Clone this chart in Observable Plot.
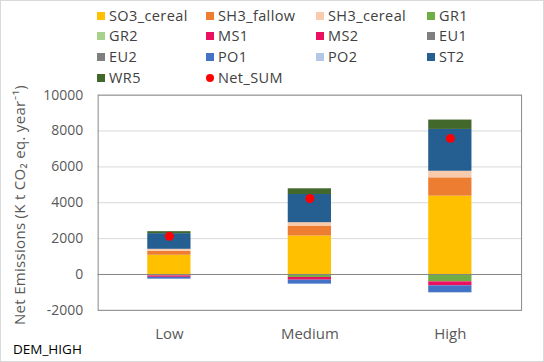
<!DOCTYPE html>
<html>
<head>
<meta charset="utf-8">
<script src="https://cdn.jsdelivr.net/npm/d3@7"></script>
<script src="https://cdn.jsdelivr.net/npm/@observablehq/plot@0.6"></script>
<style>
  html, body { margin: 0; padding: 0; background: #fff; }
  #wrap { position: relative; width: 544px; height: 362px; box-sizing: border-box; border: 1px solid #d9d9d9; overflow: hidden; font-family: "Open Sans", Lato, sans-serif; }
  #wrap svg { position: absolute; left: 0; top: 0; }
  .leg { position: absolute; font-size: 14.5px; letter-spacing: 0.4px; color: #404040; white-space: nowrap; line-height: 16px; }
  .sw { display: inline-block; width: 8px; height: 8px; margin-right: 4px; vertical-align: 1px; }
  .dot { display: inline-block; width: 8px; height: 8px; border-radius: 50%; margin-right: 4px; vertical-align: 1px; background: #ff0000; }
  #ylab { position: absolute; left: 18px; top: 204px; transform: translate(-50%, -50%) rotate(-90deg); font-size: 15px; letter-spacing: 0.3px; color: #595959; white-space: nowrap; }
  #corner { position: absolute; left: 12px; top: 339px; font-size: 13.5px; color: #000; }
</style>
</head>
<body>
<div id="wrap"></div>
<script>
const scenarios = ["Low", "Medium", "High"];
const seriesNames = ["SO3_cereal", "SH3_fallow", "SH3_cereal", "GR1", "GR2", "MS1", "MS2", "EU1", "EU2", "PO1", "PO2", "ST2", "WR5"];
const seriesColors = ["#FFC000", "#ED7D31", "#F8CBAD", "#70AD47", "#A9D18E", "#EB1060", "#EB1060", "#7F7F7F", "#7F7F7F", "#4472C4", "#B4C7E7", "#255E91", "#43682B"];
// values per series for Low, Medium, High
const SO3_cereal = [1072, 2144, 4367];
const SH3_fallow = [222, 556, 1022];
const SH3_cereal = [111, 189, 367];
const GR1 = [-80, -167, -411];
const GR2 = [0, 0, 0];
const MS1 = [-80, -150, -222];
const MS2 = [0, 0, 0];
const EU1 = [0, 0, 0];
const EU2 = [0, 0, 0];
const PO1 = [-100, -222, -389];
const PO2 = [0, 0, 0];
const ST2 = [872, 1572, 2333];
const WR5 = [111, 317, 522];
const Net_SUM = [2128, 4239, 7589];
const yTicks = [-2000, 0, 2000, 4000, 6000, 8000, 10000];

const seriesValues = [SO3_cereal, SH3_fallow, SH3_cereal, GR1, GR2, MS1, MS2, EU1, EU2, PO1, PO2, ST2, WR5];
const rows = [];
seriesNames.forEach((s, i) => scenarios.forEach((c, j) => rows.push({series: s, scenario: c, value: seriesValues[i][j]})));
const netRows = scenarios.map((c, j) => ({scenario: c, value: Net_SUM[j]}));

const W = 544, H = 362;
const chart = Plot.plot({
  width: W, height: H,
  marginLeft: 97, marginRight: 22, marginTop: 94, marginBottom: 52,
  style: {fontFamily: "'Open Sans', Lato, sans-serif", fontSize: "14px", color: "#595959", background: "transparent"},
  x: {type: "band", domain: scenarios, padding: 0, label: null},
  y: {domain: [-2000, 10000], label: null},
  color: {domain: seriesNames, range: seriesColors},
  marks: [
    Plot.gridY(yTicks, {stroke: "#d9d9d9", strokeOpacity: 1}),
    Plot.barY(rows, {x: "scenario", y: "value", fill: "series", insetLeft: 48.8, insetRight: 48.8, order: seriesNames}),
    Plot.ruleY([0], {stroke: "#868686", strokeWidth: 1}),
    Plot.frame({stroke: "#898989"}),
    Plot.dot(netRows, {x: "scenario", y: "value", r: 4.5, fill: "#ff0000"}),
    Plot.axisY(yTicks, {tickSize: 0, tickPadding: 15, label: null, fill: "#595959", fontSize: 14, tickFormat: d => String(d)}),
    Plot.axisX({tickSize: 0, tickPadding: 18, label: null, fill: "#595959", fontSize: 15})
  ]
});
const wrap = document.getElementById("wrap");
wrap.appendChild(chart);

// legend (HTML)
const legItems = seriesNames.map((s, i) => ({name: s, color: seriesColors[i], dot: false}));
legItems.push({name: "Net_SUM", color: "#ff0000", dot: true});
const colX = [96, 205, 315, 426];
const rowY = [7, 27, 48, 69];
legItems.forEach((it, k) => {
  const d = document.createElement("div");
  d.className = "leg";
  d.style.left = colX[k % 4] + "px";
  d.style.top = rowY[Math.floor(k / 4)] + "px";
  const m = document.createElement("span");
  m.className = it.dot ? "dot" : "sw";
  if (!it.dot) m.style.background = it.color;
  d.appendChild(m);
  d.appendChild(document.createTextNode(it.name));
  wrap.appendChild(d);
});
const yl = document.createElement("div");
yl.id = "ylab";
yl.textContent = "Net Emissions (K t CO\u2082 eq. year\u207B\u00B9)";
wrap.appendChild(yl);
const corner = document.createElement("div");
corner.id = "corner";
corner.textContent = "DEM_HIGH";
wrap.appendChild(corner);
</script>
</body>
</html>
